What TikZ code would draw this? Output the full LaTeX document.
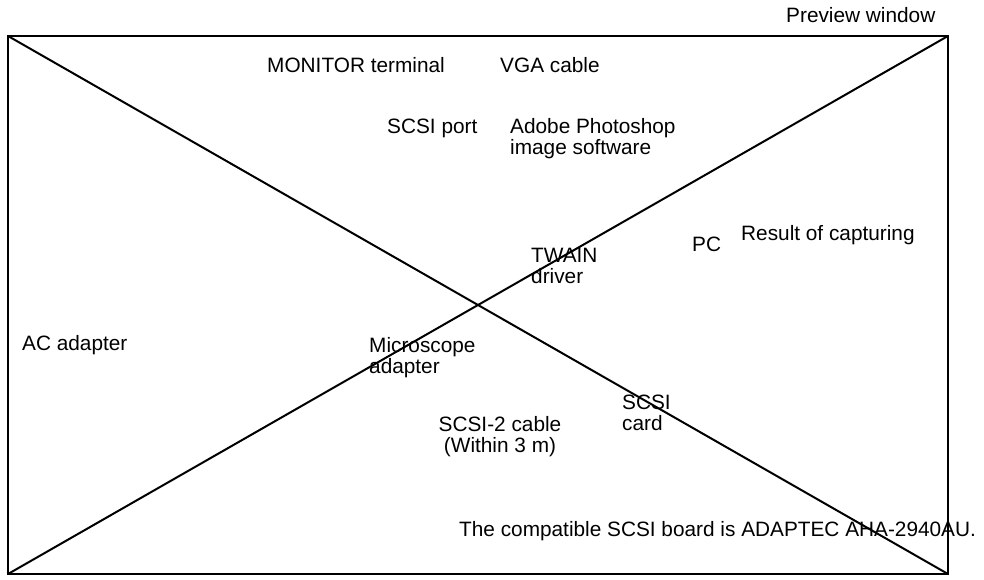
\documentclass[tikz,border=0pt]{standalone}
\usepackage{fontspec}
\setmainfont{Liberation Sans}
\begin{document}
\begin{tikzpicture}[x=1pt,y=-1pt,
  lbl/.style={anchor=base west,inner sep=0pt,align=left,font=\fontsize{20.8}{20.5}\selectfont},
  lblc/.style={anchor=base,inner sep=0pt,align=center,font=\fontsize{20.8}{20.5}\selectfont},
  frame/.style={draw=black,line width=2pt}]
\useasboundingbox (0,0) rectangle (984,579);
\coordinate (tl) at (8,36);
\coordinate (tr) at (948,36);
\coordinate (bl) at (8,574);
\coordinate (br) at (948,574);
\draw[frame] (tl) -- (tr) -- (br) -- (bl) -- cycle;
\draw[frame] (tl) -- (br);
\draw[frame] (bl) -- (tr);
\node[lbl] (prev) at (786,22) {Preview window};
\node[lbl] (mon) at (267,72) {MONITOR terminal};
\node[lbl] (vga) at (500,72) {VGA cable};
\node[lbl] (port) at (387,133) {SCSI port};
\node[lbl] (adobe) at (510,154) {Adobe Photoshop\\image software};
\node[lbl] (res) at (741,240) {Result of capturing};
\node[lbl] (pc) at (692,251) {PC};
\node[lbl] (twain) at (531,283) {TWAIN\\driver};
\node[lbl] (ac) at (22,350) {AC adapter};
\node[lbl] (micro) at (369,373) {Microscope\\adapter};
\node[lbl] (card) at (622,430) {SCSI\\card};
\node[lblc] (cable) at (500,452) {SCSI-2 cable\\(Within 3 m)};
\node[lbl] (compat) at (459,536) {The compatible SCSI board is ADAPTEC AHA-2940AU.};
\end{tikzpicture}
\end{document}
